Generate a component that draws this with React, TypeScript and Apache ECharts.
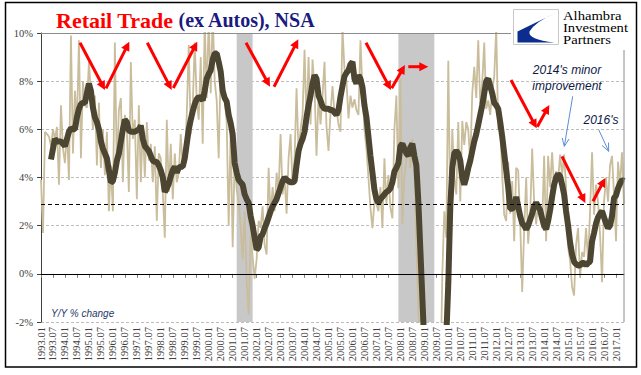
import React, { useEffect, useRef } from "react";
import * as echarts from "echarts";

// Monthly categories 1993.01 .. 2017.05
const categories: string[] = [];
for (let y = 1993; y <= 2017; y++) {
  for (let m = 1; m <= 12; m++) {
    if (y === 2017 && m > 5) break;
    categories.push(`${y}.${String(m).padStart(2, "0")}`);
  }
}

// Y/Y % change, monthly (thin line)
const monthlyYoY: number[] = [
  3.9, 1.7, 5.9, 5.8, 5.7, 5.3, 6.0, 5.6, 6.1, 3.7, 7.0, 5.2, // 1993
  4.6, 6.0, 3.9, 9.9, 5.0, 7.6, 6.2, 9.7, 4.8, 8.0, 7.0, 6.9, // 1994
  8.8, 7.5, 6.0, 7.4, 4.5, 7.1, 4.4, 6.0, 4.1, 5.9, 2.6, 4.5, // 1995
  2.6, 9.6, 4.2, 6.8, 7.3, 3.8, 6.6, 6.0, 3.4, 8.8, 5.6, 6.4, // 1996
  3.1, 7.0, 3.8, 6.2, 4.0, 6.3, 4.7, 5.4, 3.8, 5.3, 2.2, 5.0, // 1997
  4.8, 3.4, 1.5, 6.4, 3.4, 5.4, 3.1, 5.0, 3.8, 4.2, 5.8, 4.4, // 1998
  4.6, 6.6, 9.5, 5.8, 7.0, 9.6, 7.2, 6.4, 9.0, 5.4, 10.5, 7.3, // 1999
  10.6, 7.5, 10.8, 8.0, 7.2, 4.8, 8.6, 7.8, 7.2, 6.3, 2.0, 6.0, // 2000
  1.1, 4.8, 3.5, 3.0, 2.0, 0.6, 2.6, -0.3, -1.7, 1.6, 0.7, -0.2, // 2001
  0.6, 2.2, 1.9, 2.8, 1.2, 0.8, 4.4, 2.4, 3.6, 2.6, 4.2, 3.4, // 2002
  5.8, 3.3, 4.0, 2.5, 4.8, 5.8, 3.7, 4.8, 7.7, 5.0, 6.0, 6.6, // 2003
  9.3, 6.2, 9.0, 6.2, 8.9, 7.7, 4.9, 7.4, 6.2, 7.4, 8.8, 6.1, // 2004
  5.1, 6.7, 7.8, 6.7, 6.85, 6.2, 5.9, 10.2, 8.5, 8.0, 6.45, 7.4, // 2005
  6.9, 7.25, 6.8, 6.6, 9.7, 7.65, 6.0, 5.2, 4.0, 2.75, 1.9, 3.0, // 2006
  2.9, 2.6, 3.6, 1.9, 4.8, 2.9, 4.1, 2.75, 2.3, 6.0, 7.4, 3.55, // 2007
  8.1, 2.05, 4.0, 4.8, 5.35, 4.4, 5.6, 4.4, 1.2, -1.5, -3.5, -6.0, // 2008
  -8.5, -9.5, -11.0, -10.5, -9.0, -9.6, -8.0, -7.0, -5.0, 0.0, 2.6, 1.5, // 2009
  8.85, 2.45, 6.0, 4.0, 3.3, 6.3, 3.0, 6.35, 5.35, 6.3, 6.0, 4.6, // 2010
  7.5, 8.6, 7.3, 9.7, 7.0, 7.95, 9.6, 6.85, 7.2, 6.6, 7.6, 8.2, // 2011
  10.2, 6.0, 6.3, 4.1, 2.45, 2.2, 4.65, 2.5, 3.85, 1.35, 4.4, 4.3, // 2012
  2.2, -0.75, 1.8, 4.0, 1.25, 2.4, 5.2, 3.0, 2.05, 3.0, 2.6, 1.9, // 2013
  4.9, 1.35, 4.9, 3.6, 5.05, 3.6, 4.25, 3.9, 4.95, 4.1, 4.95, 3.6, // 2014
  1.1, 0.55, -0.55, -0.9, 1.2, 1.9, -0.15, 0.9, 0.7, 1.9, 0.55, 2.6, // 2015
  5.05, 2.45, 3.7, 3.0, 1.65, -0.35, 3.0, 4.0, 3.0, 4.5, 4.9, 3.3, // 2016
  1.35, 4.65, 3.7, 5.05, 2.9, // 2017
];

// 12-month average (thick line)
const avgYoY: (number | null)[] = [
  null, null, null, null, null, 4.75, 5.2, 5.6, 5.5, 5.5, 5.5, 5.4, // 1993
  5.3, 5.6, 5.9, 6.05, 6.0, 6.0, 6.5, 6.85, 7.05, 7.1, 7.1, 7.5, // 1994
  7.9, 7.6, 6.9, 6.5, 6.3, 6.0, 5.5, 5.2, 5.0, 4.8, 4.3, 3.8, // 1995
  3.85, 4.2, 4.7, 5.0, 5.5, 6.0, 6.4, 6.3, 5.95, 5.9, 5.9, 5.9, // 1996
  5.95, 6.0, 6.15, 5.6, 5.3, 5.2, 5.1, 4.9, 4.7, 4.65, 4.65, 4.5, // 1997
  4.3, 4.0, 3.4, 3.55, 3.75, 4.05, 4.3, 4.45, 4.2, 4.4, 4.45, 4.45, // 1998
  4.8, 5.4, 6.0, 6.4, 6.75, 7.05, 7.25, 7.35, 7.3, 7.2, 7.6, 8.1, // 1999
  8.3, 8.45, 8.9, 9.15, 9.15, 8.8, 8.4, 7.6, 7.3, 7.15, 6.6, 6.25, // 2000
  5.8, 4.6, 4.2, 3.9, 3.8, 3.7, 3.3, 3.1, 2.95, 2.4, 2.0, 1.5, // 2001
  1.0, 1.1, 1.55, 1.65, 1.9, 2.1, 2.35, 2.6, 2.8, 2.95, 3.1, 3.35, // 2002
  3.6, 3.85, 4.0, 3.9, 3.85, 3.8, 3.8, 3.85, 4.5, 5.1, 5.4, 5.6, // 2003
  5.9, 6.5, 7.0, 7.4, 7.9, 8.25, 8.1, 7.4, 7.2, 6.95, 6.85, 6.85, // 2004
  6.85, 6.8, 6.8, 6.7, 6.6, 6.8, 7.35, 7.8, 8.2, 8.35, 8.45, 8.7, // 2005
  8.8, 8.1, 7.9, 8.25, 8.1, 7.75, 7.0, 6.5, 5.7, 4.9, 4.2, 3.5, // 2006
  3.1, 2.95, 3.1, 3.2, 3.3, 3.4, 3.45, 3.55, 3.8, 4.25, 4.4, 4.6, // 2007
  5.3, 5.4, 5.2, 5.0, 4.9, 5.25, 5.4, 4.9, 4.5, 3.0, 1.0, -1.0, // 2008
  -3.0, -4.6, -5.8, -6.7, -7.2, -7.4, -7.2, -6.7, -6.0, -5.0, -4.0, -2.6, // 2009
  -0.4, 2.8, 4.4, 5.0, 5.1, 5.0, 4.7, 4.0, 3.7, 4.0, 4.4, 4.7, // 2010
  5.1, 5.5, 5.8, 6.2, 6.6, 7.0, 7.5, 8.0, 8.1, 7.8, 7.5, 7.1, // 2011
  7.0, 6.85, 6.3, 5.7, 5.0, 4.3, 3.6, 2.7, 2.7, 2.8, 3.2, 2.8, // 2012
  2.4, 2.1, 2.0, 1.85, 2.0, 2.25, 2.5, 2.8, 2.95, 2.8, 2.65, 2.3, // 2013
  2.0, 1.85, 2.2, 2.65, 3.2, 3.7, 4.0, 4.15, 4.05, 3.7, 3.3, 2.6, // 2014
  2.0, 1.3, 0.8, 0.5, 0.4, 0.35, 0.35, 0.45, 0.45, 0.35, 0.45, 0.5, // 2015
  1.35, 1.7, 2.1, 2.35, 2.5, 2.6, 2.35, 2.1, 1.9, 2.0, 2.4, 3.15, // 2016
  3.25, 3.55, 3.75, 3.9, 3.85, // 2017
];

const recessions: [string, string][] = [
  ["2001.03", "2001.11"],
  ["2007.12", "2009.06"],
];

const yTicks = { min: -2, max: 10, interval: 2 };
const referenceLevel = 2.9;
const logoLines = ["Alhambra", "Investment", "Partners"];

echarts.graphic.registerShape(
  "aipLogo",
  echarts.graphic.extendPath(
    "M 43 3 L 4 22 L 4 33 L 41 33 Q 14 30 16 22 Q 22 12 43 3 Z",
    {}
  )
);

function redArrow(x1: number, y1: number, x2: number, y2: number) {
  const dx = x2 - x1;
  const dy = y2 - y1;
  const L = Math.hypot(dx, dy);
  const ux = dx / L;
  const uy = dy / L;
  const hl = 9;
  const hw = 4.5;
  const bx = x2 - ux * hl;
  const by = y2 - uy * hl;
  return [
    {
      type: "line",
      z: 100,
      shape: { x1, y1, x2: bx + ux, y2: by + uy },
      style: { stroke: "#ff0000", lineWidth: 3 },
    },
    {
      type: "polygon",
      z: 100,
      shape: {
        points: [
          [x2, y2],
          [bx - uy * hw, by + ux * hw],
          [bx + uy * hw, by - ux * hw],
        ],
      },
      style: { fill: "#ff0000" },
    },
  ];
}

function blueArrow(x1: number, y1: number, x2: number, y2: number) {
  const dx = x2 - x1;
  const dy = y2 - y1;
  const L = Math.hypot(dx, dy);
  const ux = dx / L;
  const uy = dy / L;
  const hl = 8;
  const hw = 3.5;
  const bx = x2 - ux * hl;
  const by = y2 - uy * hl;
  const st = { stroke: "#5b8fd6", lineWidth: 1 };
  return [
    { type: "line", z: 100, shape: { x1, y1, x2, y2 }, style: st },
    {
      type: "polyline",
      z: 100,
      shape: {
        points: [
          [bx - uy * hw, by + ux * hw],
          [x2, y2],
          [bx + uy * hw, by - ux * hw],
        ],
      },
      style: { ...st, fill: "none" },
    },
  ];
}

export default function App() {
  const ref = useRef<HTMLDivElement>(null);

  useEffect(() => {
    if (!ref.current) return;
    const chart = echarts.init(ref.current, undefined, { renderer: "svg" });
    const serif = "'Liberation Serif', 'Times New Roman', serif";
    const sans = "'Liberation Sans', Arial, sans-serif";
    const showEvery6 = (i: number) => i % 6 === 0;

    const graphics: any[] = [
      // logo background covering the plot corner
      {
        type: "rect",
        z: 99,
        shape: { x: 511, y: 4, width: 122, height: 46 },
        style: { fill: "#ffffff" },
      },
      {
        type: "line",
        z: 99,
        shape: { x1: 624, y1: 50, x2: 624, y2: 322 },
        style: { stroke: "#8c8c8c", lineWidth: 1 },
      },
      {
        type: "rect",
        z: 100,
        shape: { x: 513.5, y: 9.5, width: 45, height: 35 },
        style: { fill: "#ffffff", stroke: "#c8c8c8", lineWidth: 1 },
      },
      {
        type: "aipLogo",
        z: 101,
        x: 513.5,
        y: 9.5,
        style: { fill: "#0c2d8d" },
      },
      ...logoLines.map((t, i) => ({
        type: "text",
        z: 100,
        x: 563,
        y: 9.5 + i * 12,
        scaleX: 1.22,
        style: {
          text: t,
          font: `12px ${serif}`,
          lineHeight: 12,
          fill: "#000000",
          verticalAlign: "top",
        },
      })),
      // annotations
      {
        type: "text",
        z: 100,
        x: 567,
        y: 70,
        style: {
          text: "2014's minor",
          font: `italic 12px ${sans}`,
          fill: "#0d1a45",
          align: "center",
          verticalAlign: "middle",
        },
      },
      {
        type: "text",
        z: 100,
        x: 567,
        y: 86,
        style: {
          text: "improvement",
          font: `italic 12px ${sans}`,
          fill: "#0d1a45",
          align: "center",
          verticalAlign: "middle",
        },
      },
      {
        type: "text",
        z: 100,
        x: 601,
        y: 120,
        style: {
          text: "2016's",
          font: `italic 12px ${sans}`,
          fill: "#0d1a45",
          align: "center",
          verticalAlign: "middle",
        },
      },
      {
        type: "text",
        z: 100,
        x: 51,
        y: 313,
        style: {
          text: "Y/Y % change",
          font: `italic 10px ${sans}`,
          fill: "#1f3a68",
          verticalAlign: "middle",
        },
      },
      ...blueArrow(572.7, 96.3, 564.3, 146.3),
      ...blueArrow(598.7, 129.7, 608.7, 151.3),
      ...redArrow(80, 42.7, 105, 90),
      ...redArrow(106, 88.3, 129.3, 41.7),
      ...redArrow(147.3, 42.7, 171.7, 90),
      ...redArrow(173.3, 88, 197.3, 41.7),
      ...redArrow(246, 42.7, 270, 86.7),
      ...redArrow(274, 86.7, 298.3, 39.3),
      ...redArrow(366, 42.7, 391, 90),
      ...redArrow(391.7, 88.3, 405, 65),
      ...redArrow(408.3, 66.7, 428.3, 66.7),
      ...redArrow(511, 80, 536.7, 128.3),
      ...redArrow(537.3, 126.7, 549.3, 105),
      ...redArrow(562, 156.3, 585.3, 203),
      ...redArrow(593, 201.3, 605.3, 178),
      // outer frame
      {
        type: "rect",
        z: 102,
        shape: { x: 5.5, y: 2.5, width: 631, height: 364.5 },
        style: { fill: "none", stroke: "#000000", lineWidth: 1.5 },
      },
    ];

    chart.setOption({
      animation: false,
      backgroundColor: "#ffffff",
      title: {
        text: "{a|Retail Trade} {b|(ex Autos), NSA}",
        left: 51,
        top: 4,
        textStyle: {
          rich: {
            a: {
              fontFamily: serif,
              fontWeight: "bold",
              fontSize: 22,
              color: "#ff0000",
            },
            b: {
              fontFamily: serif,
              fontSize: 20,
              color: "#1a1a80",
            },
          },
        },
      },
      grid: { left: 41, right: 17, top: 33, bottom: 53 },
      xAxis: {
        type: "category",
        data: categories,
        boundaryGap: false,
        axisLine: { lineStyle: { color: "#808080", width: 1 } },
        axisTick: {
          interval: showEvery6,
          length: 4,
          lineStyle: { color: "#808080" },
        },
        axisLabel: {
          interval: showEvery6,
          rotate: 90,
          margin: 5,
          fontFamily: serif,
          fontSize: 10.5,
          color: "#404040",
        },
        splitLine: { show: false },
      },
      yAxis: {
        type: "value",
        min: yTicks.min,
        max: yTicks.max,
        interval: yTicks.interval,
        axisLine: { show: true, lineStyle: { color: "#404040", width: 1 } },
        axisTick: { show: true, length: 4, lineStyle: { color: "#404040" } },
        axisLabel: {
          formatter: "{value}%",
          margin: 8,
          fontFamily: serif,
          fontSize: 10.5,
          color: "#404040",
        },
        splitLine: {
          show: true,
          lineStyle: { color: "#bdbdbd", type: [3, 2], width: 1 },
        },
      },
      series: [
        {
          name: "bands",
          type: "line",
          data: monthlyYoY,
          showSymbol: false,
          silent: true,
          z: 1,
          lineStyle: { opacity: 0, width: 0 },
          markArea: {
            silent: true,
            itemStyle: { color: "#c8c8c8" },
            data: recessions.map(([a, b]) => [{ xAxis: a }, { xAxis: b }]),
          },
        },
        {
          name: "Monthly",
          type: "line",
          data: monthlyYoY,
          showSymbol: false,
          z: 2,
          clip: true,
          lineStyle: { color: "#c9bd9c", width: 1.8 },
          markLine: {
            silent: true,
            symbol: "none",
            label: { show: false },
            data: [
              { yAxis: 0, lineStyle: { color: "#000000", type: "solid", width: 1 } },
              {
                yAxis: referenceLevel,
                lineStyle: { color: "#000000", type: [4, 3], width: 1 },
              },
              { yAxis: 10, lineStyle: { color: "#8c8c8c", type: "solid", width: 1 } },
            ],
          },
        },
        {
          name: "12-month",
          type: "line",
          data: avgYoY,
          showSymbol: false,
          connectNulls: false,
          z: 3,
          clip: true,
          lineStyle: { color: "#4b4531", width: 6 },
        },
      ],
      graphic: { elements: graphics },
    });

    return () => {
      chart.dispose();
    };
  }, []);

  return (
    <div
      ref={ref}
      style={{
        position: "absolute",
        left: 0,
        top: 0,
        width: 641,
        height: 375,
        background: "#ffffff",
      }}
    />
  );
}
